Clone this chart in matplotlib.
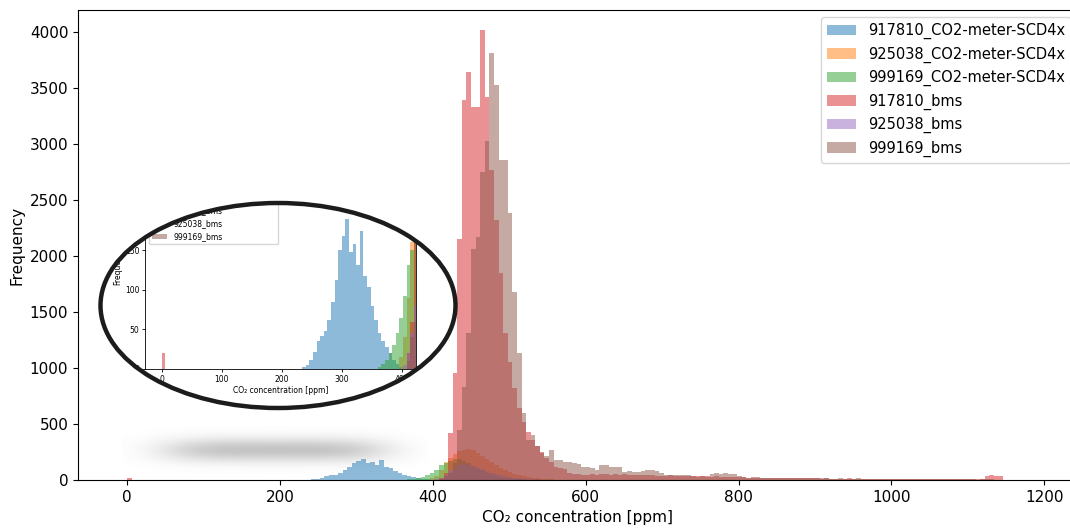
import numpy as np
import matplotlib
matplotlib.use("Agg")
import matplotlib.pyplot as plt
from matplotlib.patches import Ellipse, PathPatch
from matplotlib.path import Path

# ---------------------------------------------------------------------------
# Histogram counts of CO2 readings, 6 ppm wide bins.
# Each series: first bin's left edge [ppm] and the counts that follow it.
# ---------------------------------------------------------------------------
BIN_WIDTH = 6

series_labels = [
    "917810_CO2-meter-SCD4x",
    "925038_CO2-meter-SCD4x",
    "999169_CO2-meter-SCD4x",
    "917810_bms",
    "925038_bms",
    "999169_bms",
]

meter_917810_start = 234
meter_917810_counts = [3, 5, 12, 22, 35, 42, 48, 62, 85, 112, 150, 168, 190, 148,
                       158, 132, 175, 118, 104, 80, 62, 46, 36, 28, 20, 11, 6, 3]

meter_925038_start = 396
meter_925038_counts = [15, 40, 90, 160, 200, 230, 255, 270, 280, 265, 240, 215, 185,
                       160, 135, 110, 90, 72, 58, 46, 36, 28, 22, 16, 12, 9, 6, 4, 3, 2]

meter_999169_start = 360
meter_999169_counts = [3, 6, 12, 20, 30, 45, 65, 92, 132, 150, 170, 190, 185, 170, 150,
                       128, 105, 85, 66, 50, 38, 28, 20, 14, 10, 7, 5, 3, 2]

bms_917810_zero_start = 0
bms_917810_zero_counts = [20]
bms_917810_start = 408
bms_917810_counts = [
    20, 60, 420, 955, 2150, 3390, 3645, 3330, 3330, 4020, 3415, 2770, 2320, 1850,
    1310, 1050, 820, 640, 520, 430, 360, 300, 250, 200, 160, 115, 105, 100, 60, 50,
    50, 48, 45, 50, 48, 55,
    50, 48, 52, 46, 50, 45, 48, 44, 46, 42, 45, 40,
    40, 38, 42, 36, 40, 35, 38, 34, 36, 32, 35, 30, 33, 30, 28, 30, 26,
    25, 24, 22, 24, 20, 22, 18, 20, 19, 17, 18, 16, 17, 15, 16, 14, 15,
    14, 13, 15, 12, 13, 11, 12, 14, 11, 10, 12, 10, 11, 9, 10, 9, 10,
    9, 8, 9, 8, 7, 8, 9, 7, 8, 6, 7, 8, 6, 7, 6, 5, 6, 7, 5, 6,
    38, 42, 40, 36,
]

bms_925038_start = 402
bms_925038_counts = [5, 20, 45, 80, 110, 130, 140, 135, 125, 110, 95, 80, 66, 54, 44,
                     35, 28, 22, 17, 13, 10, 7, 5, 3]

bms_999169_start = 408
bms_999169_counts = [
    10, 40, 60, 150, 450, 830, 1310, 2060, 2170, 2750, 3030, 3810, 3530, 2860, 2860,
    2380, 1680, 1130, 600, 360, 400, 300, 240, 210, 268, 180, 175, 165, 160, 150, 145,
    120, 118, 110, 90, 134, 130, 120, 118, 115, 75, 78, 72, 75, 80, 88, 85, 82, 60, 48,
    45, 45, 42, 48, 44, 40, 30, 32, 28, 55, 60, 58, 62, 55, 50, 35,
    25, 22, 20, 24, 18, 20, 22, 17, 19, 16, 18, 20, 15, 17, 14, 16, 15,
    14, 18, 13, 12, 15, 11, 13, 12, 14, 10, 12, 11, 9, 10, 12, 9, 8,
    8, 9, 7, 8, 10, 7, 6, 8, 7, 6, 9, 6, 5, 7, 6, 5, 6, 4, 5, 6, 5, 4, 4,
]

series_segments = [
    [(meter_917810_start, meter_917810_counts)],
    [(meter_925038_start, meter_925038_counts)],
    [(meter_999169_start, meter_999169_counts)],
    [(bms_917810_zero_start, bms_917810_zero_counts), (bms_917810_start, bms_917810_counts)],
    [(bms_925038_start, bms_925038_counts)],
    [(bms_999169_start, bms_999169_counts)],
]
series_colors = ["C0", "C1", "C2", "C3", "C4", "C5"]

x_ticks = [0, 200, 400, 600, 800, 1000, 1200]
inset_x_ticks = [0, 100, 200, 300, 400]


def binned(segments):
    """Merge count segments onto one regular grid of bins."""
    lo = min(s for s, _ in segments)
    hi = max(s + BIN_WIDTH * len(c) for s, c in segments)
    edges = np.arange(lo, hi + BIN_WIDTH, BIN_WIDTH, dtype=float)
    weights = np.zeros(len(edges) - 1)
    for start, counts in segments:
        i0 = (start - lo) // BIN_WIDTH
        weights[i0:i0 + len(counts)] += counts
    centers = edges[:-1] + BIN_WIDTH / 2
    return centers, edges, weights


def draw_histograms(ax):
    for segs, color, label in zip(series_segments, series_colors, series_labels):
        centers, edges, weights = binned(segs)
        ax.hist(centers, bins=edges, weights=weights, color=color, alpha=0.5,
                label=label, zorder=2)


W, H = 1070, 529
fig = plt.figure(figsize=(W / 100, H / 100), dpi=100)
plt.rcParams["font.family"] = ["DejaVu Sans"]


def fx(px):
    return px / W


def fy(py):
    return 1 - py / H


# ---- main histogram (its right edge runs just past the canvas) ------------
ax_l, ax_r, ax_t, ax_b = 78, 1078, 10, 480
ax = fig.add_axes([fx(ax_l), fy(ax_b), fx(ax_r) - fx(ax_l), fy(ax_t) - fy(ax_b)])
draw_histograms(ax)

# soft drop shadow under the magnifier
gy, gx = np.mgrid[-1:1:120j, -1:1:400j]
r = (np.abs(gx) / 0.9) ** 4 + (np.abs(gy) / 0.55) ** 2
shade = np.zeros(gx.shape + (4,))
shade[..., :3] = 0.45
shade[..., 3] = 0.42 * np.exp(-2.2 * r)
sx0, sx1, sy0, sy1 = 122, 428, 418, 482
ax.imshow(shade, extent=[(sx0 - ax_l) / (ax_r - ax_l), (sx1 - ax_l) / (ax_r - ax_l),
                         (ax_b - sy1) / (ax_b - ax_t), (ax_b - sy0) / (ax_b - ax_t)],
          transform=ax.transAxes, aspect="auto", zorder=1, interpolation="bilinear")

ax.set_xlim(-64.2, 1244)
ax.set_ylim(0, 4196)
ax.set_xticks(x_ticks)
ax.tick_params(labelsize=11)
ax.set_xlabel("CO₂ concentration [ppm]", fontsize=11)
ax.set_ylabel("Frequency", fontsize=11)
ax.legend(loc="upper right", fontsize=10.5)

# ---- magnifier: low-concentration close-up inside an ellipse --------------
e_cx, e_cy, e_w, e_h = 278, 305.5, 355, 205
bg = Ellipse((fx(e_cx), fy(e_cy)), e_w / W, e_h / H, transform=fig.transFigure,
             facecolor="white", edgecolor="none", zorder=0.5)
fig.add_artist(bg)

in_l, in_r, in_t, in_b = 145, 416, 161, 369
axi = fig.add_axes([fx(in_l), fy(in_b), fx(in_r) - fx(in_l), fy(in_t) - fy(in_b)],
                   zorder=1)
draw_histograms(axi)
axi.set_xlim(-27.8, 423.8)
axi.set_ylim(0, 263)
axi.set_xticks(inset_x_ticks)
axi.tick_params(labelsize=5.5, length=2.5, width=0.6, pad=1.5)
for sp in axi.spines.values():
    sp.set_linewidth(0.6)
axi.set_xlabel("CO₂ concentration [ppm]", fontsize=5.5, labelpad=2)
axi.set_ylabel("Frequency", fontsize=5.5, labelpad=2)
axi.legend(loc="upper left", fontsize=5.5)

# white cover around the ellipse so only the lens area shows
t = np.linspace(0, 2 * np.pi, 361)
ex = fx(e_cx + e_w / 2 * np.cos(t))
ey = fy(e_cy + e_h / 2 * np.sin(t))
mx0, mx1, my0, my1 = 92, 419, 135, 420
rect = [(fx(mx0), fy(my0)), (fx(mx1), fy(my0)), (fx(mx1), fy(my1)),
        (fx(mx0), fy(my1)), (fx(mx0), fy(my0))]
verts = rect + list(zip(ex[::-1], ey[::-1]))
codes = ([Path.MOVETO] + [Path.LINETO] * 3 + [Path.CLOSEPOLY]
         + [Path.MOVETO] + [Path.LINETO] * (len(ex) - 2) + [Path.CLOSEPOLY])
mask = PathPatch(Path(verts, codes), transform=fig.transFigure,
                 facecolor="white", edgecolor="none", zorder=2)
fig.add_artist(mask)

ring = Ellipse((fx(e_cx), fy(e_cy)), e_w / W, e_h / H, transform=fig.transFigure,
               facecolor="none", edgecolor="#1c1c1c", linewidth=3.2, zorder=3)
fig.add_artist(ring)

fig.savefig("out.png", dpi=100)
